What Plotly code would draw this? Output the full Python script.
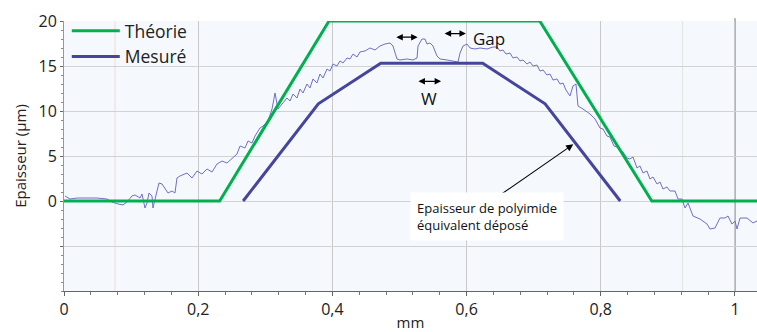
import plotly.graph_objects as go

# Théorie (green trapezoid)
theo_x = [0.0, 0.232, 0.395, 0.709, 0.876, 1.033]
theo_y = [0.0, 0.0, 20.0, 20.0, 0.0, 0.0]

# Mesuré (equivalent deposited thickness)
mes_x = [0.267, 0.379, 0.472, 0.624, 0.717, 0.829]
mes_y = [0.0, 10.8, 15.3, 15.3, 10.8, 0.0]

# Measured raw profile (thin line)
prof_x = [0.0015, 0.0089, 0.0194, 0.0343, 0.0492, 0.0641, 0.0715, 0.0805, 0.0879, 0.0939,
          0.1013, 0.1058, 0.1133, 0.1162, 0.1207, 0.1237, 0.1267, 0.1311, 0.1326, 0.1386,
          0.1416, 0.1461, 0.1505, 0.1550, 0.1610, 0.1654, 0.1684, 0.1729, 0.1833, 0.1908,
          0.1982, 0.2057, 0.2131, 0.2206, 0.2280, 0.2355, 0.2429, 0.2504, 0.2578, 0.2623,
          0.2697, 0.2742, 0.2802, 0.2846, 0.2921, 0.2966, 0.3040, 0.3100, 0.3145, 0.3189,
          0.3264, 0.3323, 0.3368, 0.3413, 0.3472, 0.3517, 0.3562, 0.3621, 0.3666, 0.3711,
          0.3770, 0.3815, 0.3860, 0.3920, 0.3964, 0.4009, 0.4069, 0.4113, 0.4158, 0.4218,
          0.4262, 0.4307, 0.4367, 0.4411, 0.4486, 0.4560, 0.4635, 0.4709, 0.4784, 0.4829,
          0.4858, 0.4903, 0.4933, 0.4963, 0.5007, 0.5112, 0.5201, 0.5261, 0.5276, 0.5335,
          0.5380, 0.5410, 0.5455, 0.5499, 0.5559, 0.5604, 0.5708, 0.5797, 0.5872, 0.5902,
          0.5946, 0.6006, 0.6051, 0.6125, 0.6200, 0.6304, 0.6393, 0.6453, 0.6498, 0.6542,
          0.6587, 0.6647, 0.6691, 0.6751, 0.6796, 0.6841, 0.6900, 0.6945, 0.6990, 0.7049,
          0.7094, 0.7139, 0.7198, 0.7243, 0.7288, 0.7347, 0.7392, 0.7437, 0.7481, 0.7541,
          0.7586, 0.7630, 0.7660, 0.7735, 0.7839, 0.7914, 0.7943, 0.7988, 0.8033, 0.8092,
          0.8137, 0.8197, 0.8241, 0.8286, 0.8331, 0.8390, 0.8435, 0.8480, 0.8539, 0.8584,
          0.8629, 0.8688, 0.8733, 0.8778, 0.8838, 0.8882, 0.8927, 0.8987, 0.9031, 0.9106,
          0.9151, 0.9210, 0.9255, 0.9300, 0.9374, 0.9478, 0.9583, 0.9627, 0.9702, 0.9776,
          0.9851, 0.9896, 0.9955, 1.0000, 1.0030, 1.0075, 1.0179, 1.0268, 1.0328]
prof_y = [0.56, 0.22, 0.33, 0.33, 0.33, 0.22, -0.11, -0.33, -0.44, -0.11,
          0.56, 0.67, 0.33, 0.78, -0.78, -0.22, 0.89, 0.56, -0.78, 1.11,
          2.00, 1.89, 1.33, 0.89, 1.11, 0.89, 2.56, 2.78, 3.11, 2.56,
          3.33, 3.00, 3.56, 3.22, 4.11, 4.44, 4.22, 4.78, 5.22, 6.11,
          5.89, 6.67, 6.44, 7.22, 8.11, 8.33, 8.89, 10.22, 12.00, 10.22,
          10.89, 11.44, 11.11, 11.89, 11.44, 12.44, 12.00, 13.00, 12.56, 13.56,
          13.11, 14.11, 13.67, 14.67, 14.44, 15.22, 15.00, 15.56, 15.33, 15.89,
          15.78, 16.33, 16.00, 16.56, 16.67, 17.00, 16.78, 17.22, 17.44, 17.56,
          17.56, 17.22, 16.44, 15.78, 15.67, 15.78, 15.67, 15.89, 17.22, 18.00,
          18.00, 17.44, 17.56, 17.22, 16.11, 15.78, 15.67, 15.56, 15.44, 16.44,
          17.22, 17.44, 17.00, 16.89, 17.00, 16.89, 17.11, 17.11, 16.67, 16.78,
          16.33, 16.44, 15.89, 16.00, 15.56, 15.67, 15.22, 15.44, 15.00, 15.11,
          14.44, 14.56, 14.00, 14.11, 13.44, 13.56, 13.00, 13.11, 12.33, 11.67,
          12.78, 13.00, 10.56, 10.22, 9.67, 9.11, 8.67, 8.11, 8.00, 7.22,
          7.11, 6.11, 6.00, 5.56, 5.44, 4.78, 4.67, 4.89, 3.67, 3.89,
          3.11, 3.33, 2.44, 2.67, 1.89, 2.11, 1.33, 1.56, 1.11, 1.11,
          0.22, 0.22, -0.78, -0.22, -1.67, -2.00, -2.56, -3.11, -3.00, -1.89,
          -1.89, -1.67, -2.56, -2.22, -3.11, -1.89, -1.89, -2.44, -2.22]

x_tickvals = [0, 0.2, 0.4, 0.6, 0.8, 1.0]
x_ticktext = ["0", "0,2", "0,4", "0,6", "0,8", "1"]
y_tickvals = [-5, 0, 5, 10, 15, 20]
y_ticktext = ["", "0", "5", "10", "15", "20"]

FONT = "Open Sans, Noto Sans, sans-serif"

fig = go.Figure()
fig.add_trace(go.Scatter(x=prof_x, y=prof_y, mode="lines", showlegend=False,
                         line=dict(color="#6f6fc6", width=1), hoverinfo="skip"))
fig.add_trace(go.Scatter(x=theo_x, y=theo_y, mode="lines", name="Théorie",
                         line=dict(color="#00b04f", width=3)))
fig.add_trace(go.Scatter(x=mes_x, y=mes_y, mode="lines", name="Mesuré",
                         line=dict(color="#45459c", width=3)))

# faint extra vertical guide lines and the marker line at x=1
fig.add_shape(type="line", xref="x", yref="paper", x0=0.076, x1=0.076, y0=0, y1=1,
              line=dict(color="#f6d8d8", width=1), layer="below")
fig.add_shape(type="line", xref="x", yref="paper", x0=0.922, x1=0.922, y0=0, y1=1,
              line=dict(color="#dfe6dc", width=1), layer="below")
fig.add_shape(type="line", xref="x", yref="paper", x0=1.0, x1=1.0, y0=0, y1=1.01,
              line=dict(color="#a9bf97", width=2), layer="below")

ann = []
# Gap / W double arrows
for (xa, xb, yy) in [(0.493, 0.527, 18.2), (0.565, 0.599, 18.6), (0.526, 0.562, 13.3)]:
    ann.append(dict(x=xb, y=yy, ax=xa, ay=yy, xref="x", yref="y", axref="x", ayref="y",
                    text="", showarrow=True, arrowhead=2, arrowside="end+start",
                    arrowsize=1, arrowwidth=1.3, arrowcolor="#000000"))
ann.append(dict(x=0.634, y=18.1, xref="x", yref="y", text="Gap", showarrow=False,
                font=dict(family=FONT, size=17, color="#111111")))
ann.append(dict(x=0.544, y=11.4, xref="x", yref="y", text="W", showarrow=False,
                font=dict(family=FONT, size=17, color="#111111")))
# pointer arrow
ann.append(dict(x=0.759, y=6.3, ax=0.643, ay=0.3, xref="x", yref="y", axref="x", ayref="y",
                text="", showarrow=True, arrowhead=2, arrowsize=1.3, arrowwidth=1.1,
                arrowcolor="#000000"))
ann.append(dict(x=0.630, y=-1.7, xref="x", yref="y",
                text="Epaisseur de polyimide<br>équivalent déposé", showarrow=False,
                align="left", bgcolor="#ffffff", borderpad=6,
                font=dict(family=FONT, size=13, color="#111111")))

fig.update_layout(
    width=757, height=332,
    margin=dict(l=64, r=0, t=21, b=41, autoexpand=False),
    paper_bgcolor="#ffffff", plot_bgcolor="#f5f9fe",
    font=dict(family=FONT, size=16, color="#222222"),
    annotations=ann,
    legend=dict(x=0.004, y=1.03, xanchor="left", yanchor="top", bgcolor="rgba(0,0,0,0)",
                font=dict(family=FONT, size=17.5, color="#222222"), itemwidth=48,
                tracegroupgap=0),
    xaxis=dict(range=[0, 1.0328], tickvals=x_tickvals, ticktext=x_ticktext,
               automargin=False,
               showgrid=True, gridcolor="#c9c9c9", gridwidth=1, zeroline=False,
               showline=True, linecolor="#666666", linewidth=1,
               ticks="outside", ticklen=4, tickcolor="#666666",
               minor=dict(dtick=0.04, tick0=0, ticks="outside", ticklen=3,
                          tickcolor="#777777", showgrid=False),
               tickfont=dict(size=16, color="#222222"),
               title=dict(text="mm", font=dict(size=15, color="#222222"), standoff=0)),
    yaxis=dict(range=[-10, 20], tickvals=y_tickvals, ticktext=y_ticktext,
               automargin=False,
               showgrid=True, gridcolor="#d2d2d2", gridwidth=1, zeroline=False,
               showline=True, linecolor="#e07a7a", linewidth=1,
               ticks="outside", ticklen=3, tickcolor="#666666",
               minor=dict(dtick=1, tick0=0, ticks="outside", ticklen=2,
                          tickcolor="#888888", showgrid=False),
               tickfont=dict(size=16, color="#222222"),
               title=dict(text="Epaisseur (µm)", font=dict(size=15, color="#222222"),
                          standoff=8)),
)

fig.write_html("out.html", config={"displayModeBar": False},
               post_script="document.body.style.margin='0';document.body.style.overflow='hidden';")
